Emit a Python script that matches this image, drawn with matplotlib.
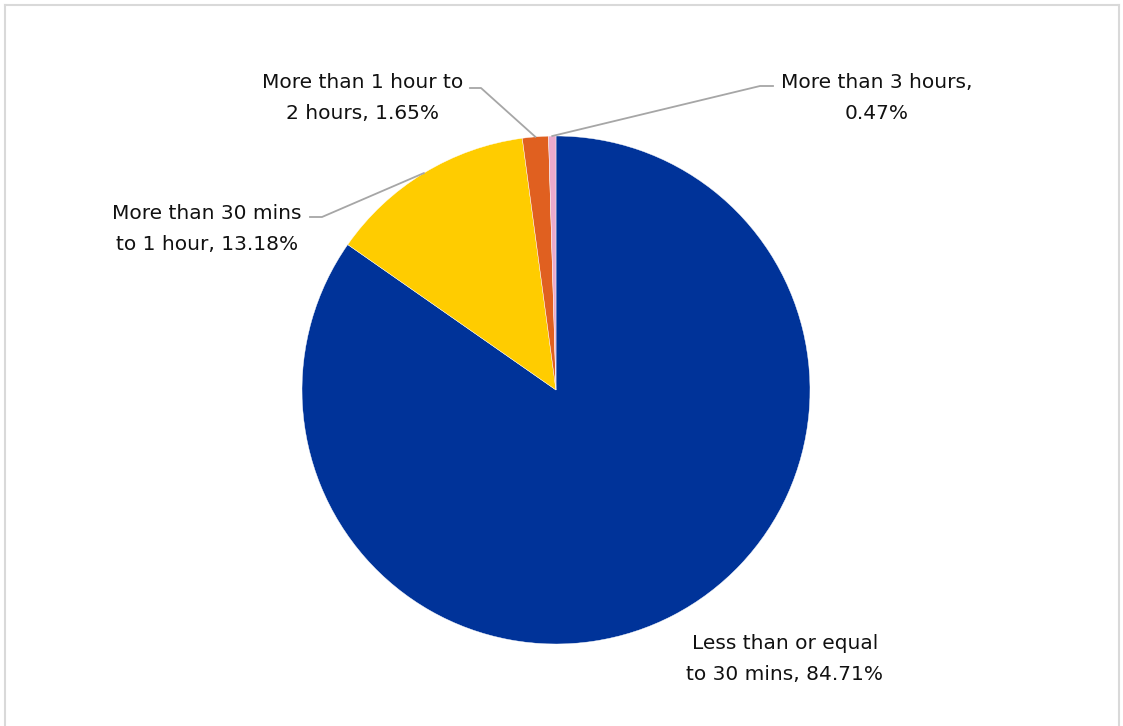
import numpy as np
import matplotlib.pyplot as plt
from matplotlib.lines import Line2D

labels = [
    "Less than or equal\nto 30 mins, 84.71%",
    "More than 30 mins\nto 1 hour, 13.18%",
    "More than 1 hour to\n2 hours, 1.65%",
    "More than 3 hours,\n0.47%",
]
shares = [84.71, 13.18, 1.65, 0.47]
colors = ["#003399", "#FFCC00", "#E06020", "#EAAACC"]

W, H = 1123, 726
plt.rcParams['font.family'] = ['DejaVu Sans']

fig = plt.figure(figsize=(W / 100, H / 100), dpi=100)
ax = fig.add_axes([0, 0, 1, 1])

cx, cy, r = 556, H - 390, 254
wedges, _ = ax.pie(shares, colors=colors, startangle=90, counterclock=False,
                   center=(cx, cy), radius=r, frame=True,
                   wedgeprops=dict(edgecolor="white", linewidth=0.3))
ax.set_xlim(0, W)
ax.set_ylim(0, H)
ax.axis("off")


def edge_point(w):
    a = np.deg2rad((w.theta1 + w.theta2) / 2)
    return cx + r * np.cos(a), cy + r * np.sin(a)


# text centre (px), elbow start, elbow end
label_pos = [(785, 659), (207, 229), (363, 98), (877, 98)]
elbows = [None, ((310, 217), (322, 217)), ((470, 88), (481, 88)), ((773, 86), (760, 86))]

for w, lab, (tx, ty), el in zip(wedges, labels, label_pos, elbows):
    ax.text(tx, H - ty, lab, ha="center", va="center", fontsize=14.5,
            color="#111111", linespacing=1.8)
    if el is not None:
        ex, ey = edge_point(w)
        xs = [el[0][0], el[1][0], ex]
        ys = [H - el[0][1], H - el[1][1], ey]
        ax.plot(xs, ys, color="#A6A6A6", linewidth=1.3)

# chart frame
frame_kw = dict(color="#D9D9D9", linewidth=1.5, transform=fig.transFigure)
fig.add_artist(Line2D([5 / W, 5 / W], [0, 1 - 5 / H], **frame_kw))
fig.add_artist(Line2D([5 / W, 1119 / W], [1 - 5 / H, 1 - 5 / H], **frame_kw))
fig.add_artist(Line2D([1119 / W, 1119 / W], [0, 1 - 5 / H], **frame_kw))

fig.savefig("out.png", dpi=100)
